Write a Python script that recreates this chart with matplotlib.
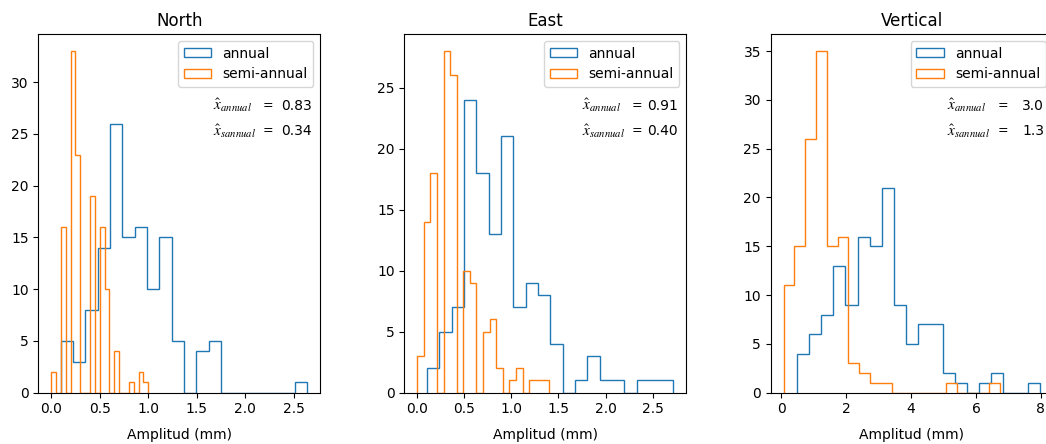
import numpy as np
import matplotlib
matplotlib.use("Agg")
import matplotlib.pyplot as plt

plt.rcParams["font.family"] = ["DejaVu Sans"]
plt.rcParams["mathtext.fontset"] = "stix"

# componentes y etiquetas
componentes = ["North", "East", "Vertical"]
series = ["annual", "semi-annual"]

# rango (min, max) de cada histograma, 20 bins
north_annual_range = (0.10, 2.64)
north_semi_range = (0.0, 1.0)
east_annual_range = (0.105, 2.72)
east_semi_range = (0.0, 1.40)
vert_annual_range = (0.48, 7.97)
vert_semi_range = (0.07, 6.74)

# conteos por bin
north_annual = [5, 3, 8, 14, 26, 15, 16, 10, 15, 5, 0, 4, 5, 0, 0, 0, 0, 0, 0, 1]
north_semi = [2, 0, 16, 0, 33, 23, 0, 0, 19, 0, 16, 10, 0, 4, 0, 0, 1, 0, 2, 1]
east_annual = [2, 5, 7, 24, 18, 13, 21, 7, 9, 8, 4, 0, 1, 3, 1, 1, 0, 1, 1, 1]
east_semi = [3, 14, 18, 0, 28, 26, 0, 10, 9, 0, 5, 6, 2, 0, 1, 2, 0, 1, 1, 1]
vert_annual = [4, 6, 8, 13, 9, 16, 15, 21, 9, 5, 7, 7, 2, 1, 0, 1, 2, 0, 0, 1]
vert_semi = [11, 15, 26, 35, 15, 16, 3, 2, 1, 1, 0, 0, 0, 0, 0, 1, 0, 0, 0, 1]

# valores mostrados en el texto
medias_annual = ["0.83", "0.91", "3.0"]
medias_semi = ["0.34", "0.40", "1.3"]

rangos = [(north_annual_range, north_semi_range),
          (east_annual_range, east_semi_range),
          (vert_annual_range, vert_semi_range)]
conteos = [(north_annual, north_semi),
           (east_annual, east_semi),
           (vert_annual, vert_semi)]

W, H = 1046, 444
fig = plt.figure(figsize=(W / 100, H / 100), dpi=100)

# posiciones de los ejes en pixeles (el tercero se sale por la derecha)
lefts = [38.3, 404.3, 770.7]
ancho = 282
top, bottom = 34, 392.7
label_x = [0.62, 0.63, 0.625]
igual_x = [0.815, 0.825, 0.825]


def plot_hist(ax, rango, cuenta, label):
    edges = np.linspace(rango[0], rango[1], len(cuenta) + 1)
    centros = (edges[:-1] + edges[1:]) / 2
    ax.hist(centros, bins=edges, weights=cuenta, histtype="step", label=label)


for i, comp in enumerate(componentes):
    ax = fig.add_axes([lefts[i] / W, (H - bottom) / H, ancho / W, (bottom - top) / H])
    plot_hist(ax, rangos[i][0], conteos[i][0], series[0])
    plot_hist(ax, rangos[i][1], conteos[i][1], series[1])
    ax.set_title(comp)
    ax.set_xlabel("Amplitud (mm)", labelpad=8)
    ax.legend(loc="upper right")

    # etiquetas con sombrero
    for y, lab, val in [(0.80, r"$\hat{x}_{annual}$", medias_annual[i]),
                        (0.73, r"$\hat{x}_{sannual}$", medias_semi[i])]:
        ax.text(label_x[i], y, lab, transform=ax.transAxes, fontsize=11, va="center")
        ax.text(igual_x[i], y, "=", transform=ax.transAxes, fontsize=9, va="center", ha="center")
        ax.text(0.97, y, val, transform=ax.transAxes, fontsize=10, va="center", ha="right")

fig.savefig("out.png", dpi=100)
